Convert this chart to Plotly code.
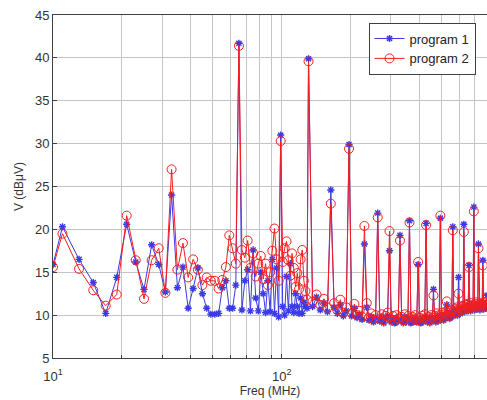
import plotly.graph_objects as go

# ---- measured spectrum, low band: 10 MHz, then every 2 MHz from 11 to 129 MHz ----
freq_low = [10] + list(range(11, 131, 2))

p1_low = [15.9, 20.3, 16.5, 13.8, 10.2, 14.4, 20.6, 16.2, 13.0, 18.2,
          15.9, 12.7, 24.0, 13.2, 15.6, 10.8, 13.1, 15.5, 12.5, 10.8,
          10.1, 10.1, 10.2, 13.2, 14.0, 10.8, 10.8, 13.5, 41.7, 10.6,
          14.0, 15.3, 10.5, 17.6, 12.0, 10.5, 15.0, 12.5, 10.3, 14.0,
          10.4, 16.5, 10.2, 15.5, 9.8, 31.0, 11.0, 10.0, 14.5, 10.5,
          16.0, 11.0, 10.3, 12.5, 11.0, 10.2, 12.0, 10.2, 11.5, 11.0,
          10.8]

p2_low = [15.6, 19.5, 15.4, 12.9, 11.1, 12.4, 21.6, 16.4, 11.9, 16.4,
          17.8, 12.6, 27.0, 15.3, 18.4, 14.4, 16.5, 15.3, 13.5, 14.4,
          14.0, 14.0, 13.1, 14.1, 15.6, 19.3, 17.8, 16.0, 41.4, 17.6,
          16.7, 18.7, 15.5, 17.2, 14.5, 16.0, 16.9, 14.2, 16.0, 13.5,
          15.0, 17.5, 20.1, 16.5, 14.0, 30.3, 16.2, 17.8, 18.6, 16.4,
          14.6, 17.2, 15.5, 13.3, 14.9, 13.0, 16.5, 17.6, 14.0, 12.8,
          11.8]

# ---- high band: 33 MHz clock harmonics (131 ... 791 MHz) with 5 floor samples between ----
harm_start = 131.0
harm_step = 33.0
floor_per_gap = 5

p1_peaks = [39.9, 24.6, 29.9, 18.3, 21.9, 17.5, 19.3, 21.0, 15.9, 20.7, 13.0,
            21.3, 11.2, 20.3, 14.4, 20.6, 15.8, 22.6, 18.3, 16.4, 12.3]
p2_peaks = [39.6, 23.0, 29.4, 20.4, 21.4, 19.8, 18.7, 20.8, 16.2, 20.5, 12.3,
            21.6, 11.6, 19.9, 12.5, 19.7, 15.6, 22.1, 17.8, 15.8, 12.0]

p1_floor = [11.0, 12.1, 10.6, 11.4, 10.4,
            10.9, 10.2, 11.2, 9.9, 10.5,
            9.9, 10.8, 9.7, 10.1, 9.5,
            10.9, 9.4, 9.8, 9.2, 9.7,
            9.3, 9.8, 9.1, 9.6, 9.9,
            9.2, 9.6, 9.1, 9.7, 9.3,
            9.5, 9.1, 9.8, 9.2, 9.6,
            9.1, 9.5, 9.3, 9.7, 9.2,
            9.4, 9.1, 9.6, 9.3, 9.8,
            9.2, 9.5, 9.1, 9.7, 9.4,
            9.6, 9.2, 9.9, 9.3, 9.7,
            9.5, 10.0, 9.4, 9.8, 10.1,
            9.7, 10.2, 9.6, 10.0, 10.3,
            9.9, 10.4, 10.1, 10.6, 10.0,
            10.5, 10.2, 10.7, 10.3, 10.8,
            10.4, 10.9, 10.6, 11.0, 10.5,
            10.8, 10.5, 11.1, 10.7, 10.9,
            10.6, 11.0, 10.7, 11.2, 10.8,
            10.9, 10.6, 11.1, 10.8, 11.0,
            10.7, 11.1, 10.9, 11.2, 10.8,
            11.0]

p2_floor = [11.6, 12.4, 11.2, 11.9, 10.9,
            11.4, 10.6, 11.8, 10.3, 10.9,
            10.2, 11.3, 10.0, 10.5, 9.8,
            11.4, 9.7, 10.2, 9.5, 10.0,
            9.6, 10.1, 9.4, 9.9, 10.3,
            9.5, 9.9, 9.3, 10.0, 9.6,
            9.8, 9.4, 10.1, 9.5, 9.9,
            9.3, 9.8, 9.6, 10.0, 9.4,
            9.7, 9.3, 9.9, 9.6, 10.1,
            9.5, 9.8, 9.4, 10.0, 9.7,
            9.9, 9.5, 10.2, 9.6, 10.0,
            9.8, 10.3, 9.7, 10.1, 10.4,
            10.0, 10.5, 9.9, 10.3, 10.6,
            10.2, 10.7, 10.4, 10.9, 10.3,
            10.8, 10.5, 11.0, 10.6, 11.1,
            10.7, 11.2, 10.9, 11.3, 10.8,
            11.1, 10.8, 11.4, 11.0, 11.2,
            10.9, 11.3, 11.0, 11.5, 11.1,
            11.2, 10.9, 11.4, 11.1, 11.3,
            11.0, 11.4, 11.2, 11.5, 11.1,
            11.3]

x_major = [10, 100]
x_major_text = ["10<sup>1</sup>", "10<sup>2</sup>"]
x_minor = [20, 30, 40, 50, 60, 70, 80, 90, 200, 300, 400, 500, 600, 700, 800]
y_ticks = [5, 10, 15, 20, 25, 30, 35, 40, 45]


def high_band(peaks, floor):
    """Interleave harmonic peaks with the floor samples that sit between them."""
    sub = harm_step / (floor_per_gap + 1)
    freqs, vals = [], []
    n = len(peaks)
    for i, pk in enumerate(peaks):
        f0 = harm_start + i * harm_step
        freqs.append(f0)
        vals.append(pk)
        if i < n - 1:
            for j in range(floor_per_gap):
                freqs.append(f0 + (j + 1) * sub)
                vals.append(floor[i * floor_per_gap + j])
    # trailing floor sample past the last harmonic
    freqs.append(harm_start + (n - 1) * harm_step + sub)
    vals.append(floor[-1])
    return freqs, vals


f1_hi, v1_hi = high_band(p1_peaks, p1_floor)
f2_hi, v2_hi = high_band(p2_peaks, p2_floor)

freq1 = freq_low + f1_hi
val1 = p1_low + v1_hi
freq2 = freq_low + f2_hi
val2 = p2_low + v2_hi

FONT = "Arial, 'Liberation Sans', Helvetica, sans-serif"

fig = go.Figure()
fig.add_trace(go.Scatter(
    x=freq1, y=val1, name="program 1", mode="lines+markers",
    line=dict(color="#3a3ae6", width=1),
    marker=dict(symbol="asterisk-open", size=6,
                line=dict(color="#1a1ad0", width=1.4)),
))
fig.add_trace(go.Scatter(
    x=freq2, y=val2, name="program 2", mode="lines+markers",
    line=dict(color="#ff1a1a", width=1),
    marker=dict(symbol="circle-open", size=9, color="#f02020",
                line=dict(color="#f02020", width=1)),
))

axis_common = dict(
    showline=True, linecolor="#404040", linewidth=1, mirror=True,
    showgrid=True, gridcolor="#c4c4c4", gridwidth=1,
    ticks="inside", ticklen=4, tickcolor="#404040",
    zeroline=False,
    tickfont=dict(family=FONT, size=13, color="#333333"),
)

fig.update_layout(
    width=487, height=400,
    margin=dict(l=53, r=0, t=15, b=42),
    paper_bgcolor="white", plot_bgcolor="white",
    font=dict(family=FONT, color="#333333"),
    xaxis=dict(
        type="log", range=[1, 2.8977],
        tickmode="array", tickvals=x_major, ticktext=x_major_text,
        ticklabelstandoff=6,
        minor=dict(tickmode="array", tickvals=x_minor, showgrid=True,
                   gridcolor="#c4c4c4", gridwidth=1,
                   ticks="inside", ticklen=3, tickcolor="#404040"),
        title=dict(text="Freq (MHz)", font=dict(family=FONT, size=12, color="#333333"),
                   standoff=2),
        **axis_common,
    ),
    yaxis=dict(
        range=[5, 45], tickmode="array", tickvals=y_ticks,
        title=dict(text="V (dBμV)", font=dict(family=FONT, size=12, color="#333333"),
                   standoff=8),
        **axis_common,
    ),
    legend=dict(
        x=0.727, y=0.978, xanchor="left", yanchor="top",
        bgcolor="white", bordercolor="#404040", borderwidth=1,
        font=dict(family=FONT, size=13, color="#222222"),
        tracegroupgap=0, itemwidth=30,
    ),
    showlegend=True,
)

fig.write_html("out.html")
